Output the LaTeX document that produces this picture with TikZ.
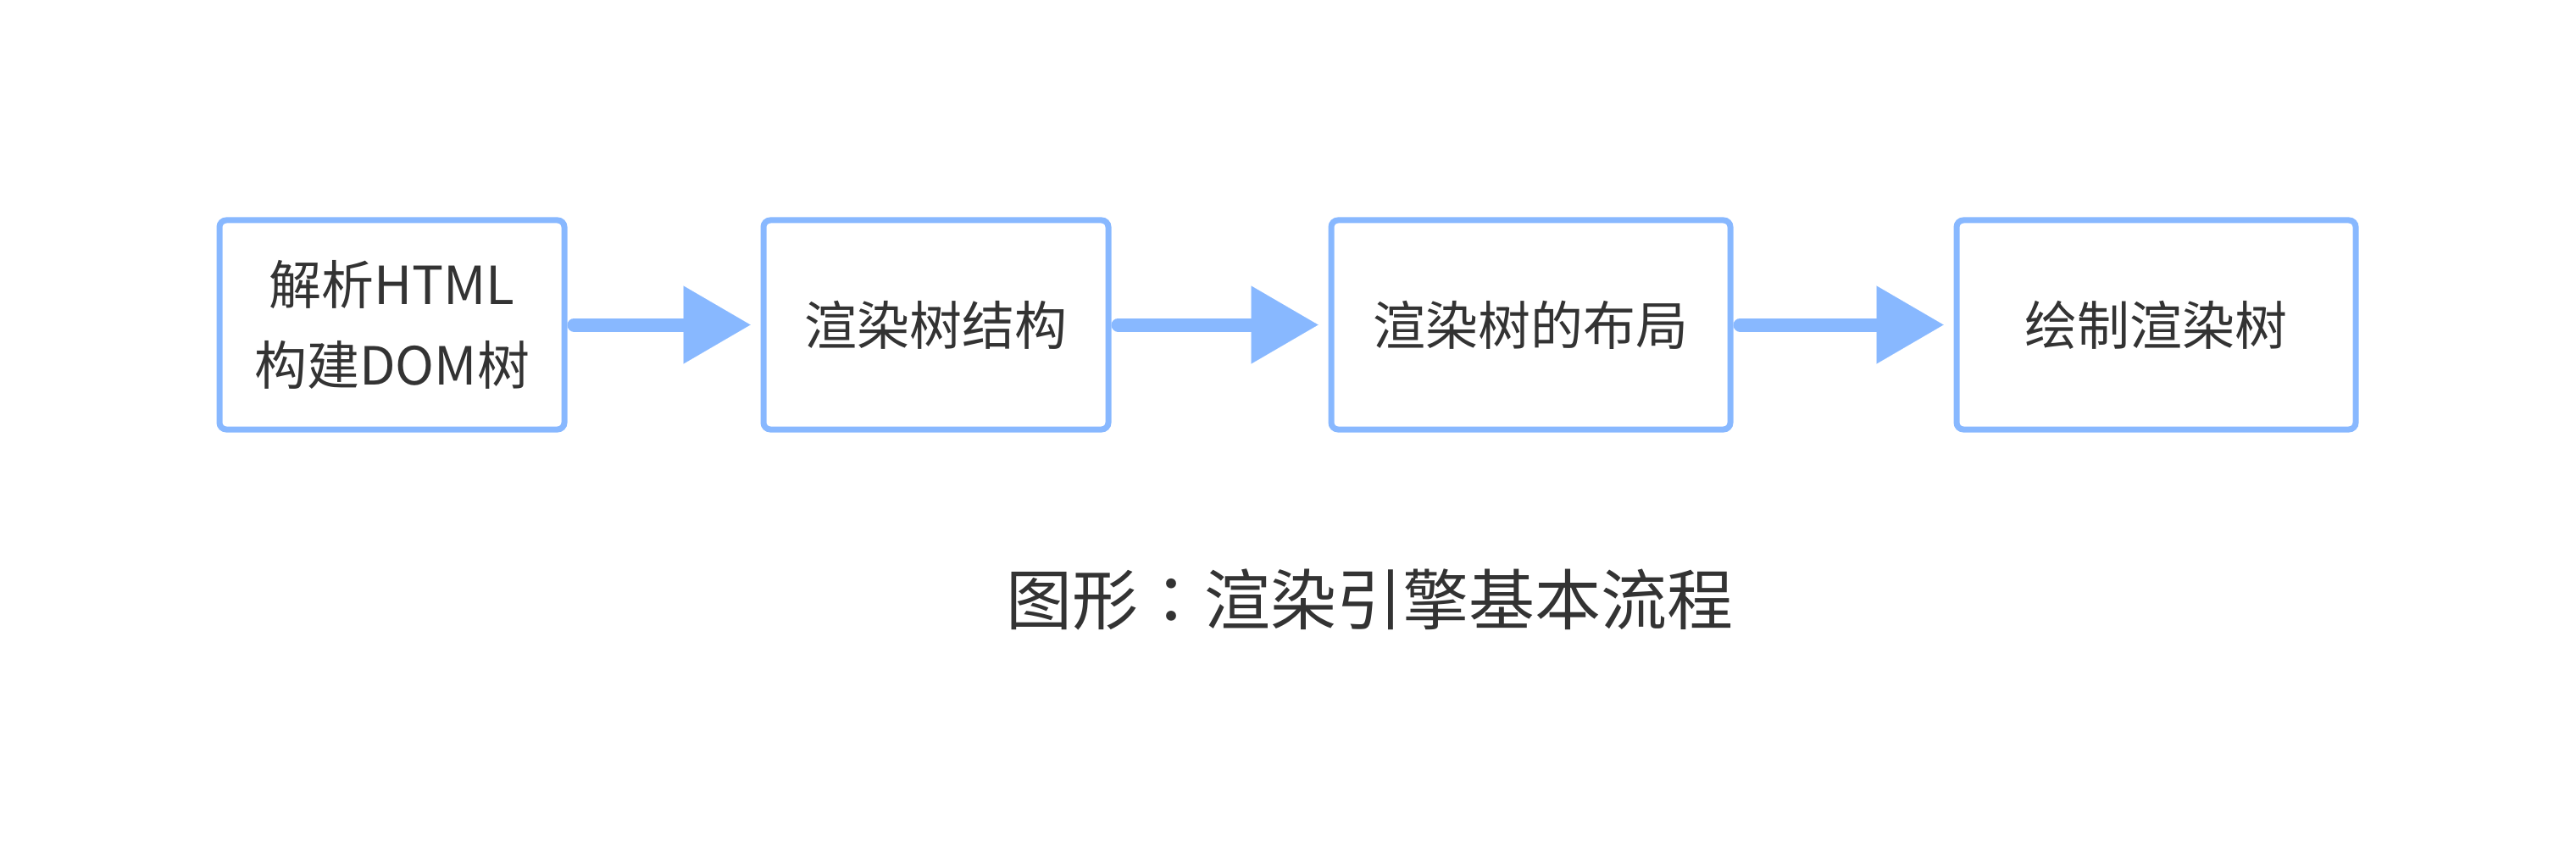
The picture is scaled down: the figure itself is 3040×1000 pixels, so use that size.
\documentclass[tikz,border=0pt]{standalone}
\usepackage{fontspec}
\setmainfont{Noto Sans CJK SC}
\newfontfamily\tcfont{Noto Sans CJK TC}
\usetikzlibrary{arrows.meta}
\definecolor{boxblue}{RGB}{136,184,255}
\definecolor{txt}{RGB}{51,51,51}
\begin{document}
\begin{tikzpicture}[x=1pt,y=-1pt,
  stepbox/.style={draw=boxblue, line width=7pt, rounded corners=8pt, fill=white,
    inner sep=0pt, minimum height=247pt, text=txt, align=center,
    font=\fontsize{62}{95}\selectfont},
  flow/.style={draw=boxblue, line width=16pt, line cap=round, shorten <=8pt, shorten >=12pt,
    -{Triangle[length=79pt,width=92pt,line width=0.01pt]}}]
\useasboundingbox (0,0) rectangle (3040,1000);
\node[stepbox, minimum width=407pt] (b1) at (462.5,383.5) {解析HTML\\构建DOM树};
\node[stepbox, minimum width=407pt] (b2) at (1104.5,383.5) {渲染树结构};
\node[stepbox, minimum width=471pt] (b3) at (1806.5,383.5) {渲染树的布局};
\node[stepbox, minimum width=471pt] (b4) at (2544.5,383.5) {绘制渲染树};
\draw[flow] (b1.east) -- (b2.west);
\draw[flow] (b2.east) -- (b3.west);
\draw[flow] (b3.east) -- (b4.west);
\node[text=txt, inner sep=0pt, font=\fontsize{78}{90}\selectfont] (cap) at (1616,708) {图形{\tcfont ：}渲染引擎基本流程};
\end{tikzpicture}
\end{document}
